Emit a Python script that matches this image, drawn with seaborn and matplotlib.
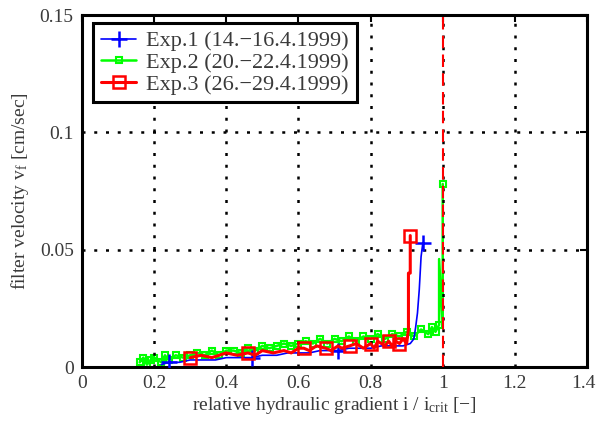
import matplotlib
matplotlib.use("Agg")
import matplotlib.pyplot as plt
import matplotlib.transforms as mtransforms
import seaborn as sns

sns.set_style("white")
plt.rcParams['font.family'] = ['Liberation Serif', 'DejaVu Serif']
plt.rcParams['mathtext.fontset'] = 'custom'
plt.rcParams['mathtext.rm'] = 'Liberation Serif'
plt.rcParams['mathtext.it'] = 'Liberation Serif:italic'

# ---------------- data ----------------
exp1_label = "Exp.1 (14.\u221216.4.1999)"
exp2_label = "Exp.2 (20.\u221222.4.1999)"
exp3_label = "Exp.3 (26.\u221229.4.1999)"

exp1_x = [0.22, 0.24, 0.27, 0.30, 0.34, 0.37, 0.40, 0.44, 0.47, 0.50, 0.54, 0.57,
          0.60, 0.63, 0.66, 0.69, 0.71, 0.74, 0.77, 0.80, 0.83, 0.86, 0.89, 0.91,
          0.92, 0.925, 0.93, 0.935, 0.94, 0.945]
exp1_y = [0.001, 0.002, 0.002, 0.003, 0.003, 0.003, 0.004, 0.004, 0.004, 0.005, 0.005, 0.006,
          0.006, 0.006, 0.007, 0.007, 0.007, 0.008, 0.008, 0.008, 0.009, 0.009, 0.009, 0.010,
          0.012, 0.017, 0.023, 0.033, 0.047, 0.053]
exp1_marks = [1, 8, 16, 29]

exp2_x = [0.16, 0.17, 0.18, 0.19, 0.20, 0.22, 0.23, 0.24, 0.26, 0.28, 0.30, 0.32, 0.34,
          0.36, 0.38, 0.40, 0.42, 0.44, 0.46, 0.48, 0.50, 0.52, 0.54, 0.56, 0.58, 0.60,
          0.62, 0.64, 0.66, 0.68, 0.70, 0.72, 0.74, 0.76, 0.78, 0.80, 0.82, 0.84, 0.86,
          0.88, 0.90, 0.92, 0.94, 0.96, 0.97, 0.98, 0.99, 0.99, 1.00, 1.00, 1.00]
exp2_y = [0.002, 0.004, 0.001, 0.003, 0.004, 0.002, 0.005, 0.003, 0.005, 0.004, 0.005, 0.006, 0.005,
          0.007, 0.005, 0.007, 0.007, 0.006, 0.008, 0.007, 0.009, 0.008, 0.009, 0.010, 0.009, 0.010,
          0.011, 0.010, 0.012, 0.010, 0.012, 0.011, 0.013, 0.011, 0.013, 0.012, 0.014, 0.012, 0.014,
          0.013, 0.015, 0.013, 0.016, 0.014, 0.017, 0.015, 0.018, 0.046, 0.017, 0.075, 0.078]
exp2_marks = list(range(0, 47)) + [50]

exp3_x = [0.30, 0.33, 0.36, 0.40, 0.43, 0.46, 0.48, 0.50, 0.53, 0.56, 0.58, 0.60, 0.615,
          0.63, 0.65, 0.676, 0.69, 0.71, 0.72, 0.742, 0.76, 0.78, 0.80, 0.81, 0.82, 0.84,
          0.85, 0.86, 0.87, 0.88, 0.89, 0.90, 0.905, 0.905, 0.91, 0.91]
exp3_y = [0.004, 0.005, 0.004, 0.006, 0.005, 0.006, 0.005, 0.007, 0.006, 0.007, 0.006, 0.008, 0.008,
          0.007, 0.009, 0.008, 0.007, 0.009, 0.008, 0.009, 0.010, 0.008, 0.010, 0.008, 0.011, 0.009,
          0.011, 0.009, 0.011, 0.010, 0.012, 0.010, 0.016, 0.040, 0.040, 0.056]
exp3_marks = [0, 5, 12, 15, 19, 22, 26, 29, 35]

i_crit = 1.0

x_ticks = [0, 0.2, 0.4, 0.6, 0.8, 1.0, 1.2, 1.4]
x_ticklabels = ["0", "0.2", "0.4", "0.6", "0.8", "1", "1.2", "1.4"]
y_ticks = [0, 0.05, 0.1, 0.15]
y_ticklabels = ["0", "0.05", "0.1", "0.15"]

# ---------------- plot ----------------
fig = plt.figure(figsize=(5.97, 4.22), dpi=100)
ax = fig.add_axes([82 / 597, 55 / 422, 505 / 597, 352 / 422])

ax.axvline(i_crit, color='red', linestyle=(0, (6, 3)), linewidth=1.5, zorder=5)

sns.lineplot(x=exp1_x, y=exp1_y, ax=ax, sort=False, estimator=None, color='blue',
             linewidth=1.2, marker='+', markersize=12, markeredgewidth=1.8,
             markeredgecolor='blue', markerfacecolor='blue',
             markevery=exp1_marks, label=exp1_label, zorder=3)
sns.lineplot(x=exp2_x, y=exp2_y, ax=ax, sort=False, estimator=None, color='#00ff00',
             linewidth=1.8, marker='s', markersize=4.5, markerfacecolor='none',
             markeredgecolor='#00ff00', markeredgewidth=1.5, markevery=exp2_marks,
             label=exp2_label, zorder=2)
sns.lineplot(x=exp3_x, y=exp3_y, ax=ax, sort=False, estimator=None, color='red',
             linewidth=2.2, marker='s', markersize=8, markerfacecolor='none',
             markeredgecolor='red', markeredgewidth=1.8, markevery=exp3_marks,
             label=exp3_label, zorder=4)

ax.set_xlim(0, 1.4)
ax.set_ylim(0, 0.15)
ax.set_xticks(x_ticks)
ax.set_xticklabels(x_ticklabels)
ax.set_yticks(y_ticks)
ax.set_yticklabels(y_ticklabels)

txt_color = '#3a3a3a'
ax.tick_params(direction='in', length=5, width=1.5, top=True, right=True,
               labelsize=14, labelcolor=txt_color, color='black', pad=6)
# nudge the last x tick label so it stays inside the figure
last = ax.get_xticklabels()[-1]
last.set_transform(last.get_transform() + mtransforms.ScaledTranslation(-4 / 100, 0, fig.dpi_scale_trans))

for s in ax.spines.values():
    s.set_visible(True)
    s.set_color('black')
    s.set_linewidth(2.2)

ax.grid(True, color='black', linestyle=(0, (1.2, 3.5)), linewidth=1.8)
ax.set_axisbelow(False)

ax.set_xlabel(r"relative hydraulic gradient i / i$_{\mathrm{crit}}$ [$-$]", fontsize=14,
              color=txt_color, labelpad=2)
ax.set_ylabel(r"filter velocity v$_{\mathrm{f}}$ [cm/sec]", fontsize=14,
              color=txt_color, labelpad=6)

leg = ax.legend(loc='upper left', bbox_to_anchor=(11 / 505, 344 / 352), borderaxespad=0,
                fontsize=16, frameon=True, fancybox=False, framealpha=1,
                edgecolor='black', handlelength=1.6, handletextpad=0.45,
                labelspacing=0.05, borderpad=0.35)
leg.get_frame().set_linewidth(2.2)
for t in leg.get_texts():
    t.set_color(txt_color)

fig.savefig("out.png", dpi=100)
